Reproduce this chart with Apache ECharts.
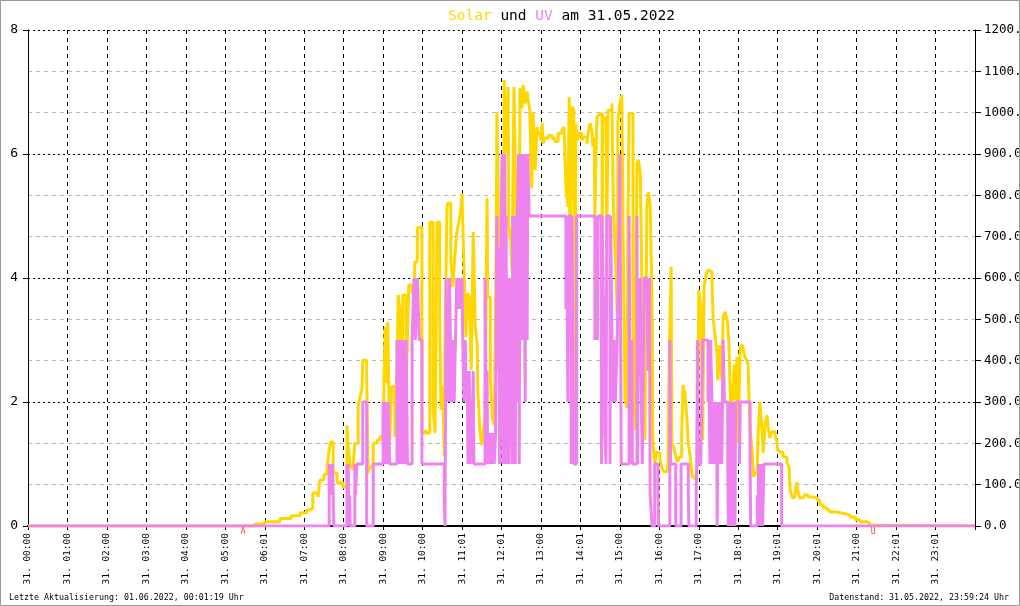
<!DOCTYPE html>
<html>
<head>
<meta charset="utf-8">
<script src="https://cdn.jsdelivr.net/npm/echarts@6/dist/echarts.min.js"></script>
<style>
html,body{margin:0;padding:0;background:#fff;}
#c{width:1020px;height:606px;}
</style>
</head>
<body>
<div id="c"></div>
<script>
// ---- data ----
const tickLabels = ['31. 00:00','31. 01:00','31. 02:00','31. 03:00','31. 04:00','31. 05:00','31. 06:01','31. 07:00',
  '31. 08:00','31. 09:00','31. 10:00','31. 11:01','31. 12:01','31. 13:00','31. 14:01','31. 15:00','31. 16:00',
  '31. 17:00','31. 18:01','31. 19:01','31. 20:01','31. 21:00','31. 22:01','31. 23:01'];

// minutes since midnight, W/m²
const solarData = [
[0,0],[338,0],[345,5],[360,10],[383,18],[400,25],[414,32],[424,39],[429,43],[433,80],[441,70],[444,111],[450,125],[455,143],[458,184],[460,203],[464,128],[470,104],[474,106],[479,94],[485,244],[487,191],[490,143],[494,135],[497,200],[502,289],[505,313],[508,333],[509,401],[515,377],[517,128],[520,143],[525,200],[531,208],[535,216],[540,244],[543,482],[546,346],[547,494],[550,208],[553,337],[558,216],[561,382],[563,559],[566,515],[569,225],[570,559],[575,208],[576,390],[579,583],[584,563],[588,639],[592,721],[595,724],[599,225],[604,232],[607,225],[611,735],[616,281],[619,225],[622,735],[626,498],[628,281],[631,337],[633,170],[634,426],[637,765],[638,781],[643,644],[646,578],[649,651],[652,711],[655,733],[658,765],[660,805],[663,619],[666,457],[668,563],[671,554],[674,377],[677,711],[680,486],[683,442],[684,329],[687,232],[690,196],[692,225],[695,264],[698,794],[699,554],[703,361],[706,261],[709,244],[712,687],[713,1002],[716,668],[718,450],[721,886],[722,298],[724,1079],[727,902],[730,1062],[731,724],[734,692],[736,619],[739,1062],[742,748],[744,745],[747,321],[748,1059],[751,1010],[753,1067],[756,1022],[759,1051],[760,1035],[763,1006],[766,817],[768,1002],[771,861],[774,965],[775,950],[779,933],[782,974],[783,925],[786,938],[791,945],[797,938],[801,930],[806,950],[812,958],[815,965],[818,820],[821,772],[823,1038],[824,462],[826,853],[827,1014],[830,1006],[832,273],[833,974],[835,933],[838,950],[842,933],[845,941],[850,925],[853,965],[855,974],[858,950],[859,917],[861,941],[862,748],[865,987],[867,994],[870,998],[873,600],[874,990],[876,977],[879,990],[880,660],[882,1006],[885,1006],[888,1022],[890,781],[893,663],[896,515],[897,982],[900,1022],[903,1043],[905,692],[908,305],[911,285],[912,684],[914,998],[917,998],[920,627],[921,337],[923,232],[926,878],[928,886],[931,857],[934,523],[935,539],[938,208],[941,772],[943,808],[946,781],[949,531],[950,216],[952,167],[953,152],[956,179],[958,177],[961,160],[964,140],[967,131],[972,128],[973,152],[975,394],[978,627],[979,200],[982,191],[985,167],[988,155],[990,167],[994,216],[996,341],[999,321],[1002,256],[1004,200],[1007,167],[1010,119],[1014,111],[1017,128],[1019,370],[1020,571],[1023,535],[1025,385],[1026,208],[1028,578],[1029,588],[1032,612],[1034,619],[1037,615],[1040,588],[1042,498],[1045,457],[1048,409],[1049,353],[1052,438],[1055,353],[1057,506],[1060,518],[1063,498],[1064,491],[1066,433],[1069,240],[1071,312],[1074,390],[1075,305],[1078,409],[1080,200],[1083,433],[1086,438],[1087,433],[1090,409],[1093,401],[1095,390],[1098,232],[1101,184],[1103,119],[1105,128],[1109,152],[1110,216],[1113,300],[1116,232],[1118,177],[1121,249],[1124,268],[1125,244],[1128,213],[1131,228],[1136,220],[1139,203],[1140,184],[1143,179],[1148,167],[1154,155],[1157,143],[1159,87],[1162,68],[1163,70],[1166,80],[1169,106],[1171,80],[1174,68],[1178,70],[1181,75],[1186,70],[1194,68],[1200,63],[1204,51],[1209,44],[1215,39],[1219,34],[1230,31],[1239,27],[1250,22],[1258,15],[1265,10],[1276,7],[1280,2],[1285,0],[1440,0]
];

// minutes since midnight, UV index
const uvData = [
[0,0],[458,1],[461,0.5],[463,1],[464,0.5],[465,0],
[485,1],[486,0],[487,1],[488,0],[489,0.5],[490,0],
[497,1],[498,0.5],[500,1],
[509,2],[515,0],[525,1],
[540,2],[542,1],[544,2],[546,1],[548,2],[550,1],
[561,3],[562,1],[564,3],[566,1],[567,3],[569,1],[571,3],[573,1],[575,3],[577,1],
[584,3],[587,4],[589,3],[592,4],[595,3],[599,1],
[633,0.5],[634,0],[636,4],[637,2],[638,3.5],[640,2],[641,4],[643,2.5],[644,2],[646,3],[648,2],[649,2.5],[652,4],[655,3.5],[656,4],[659,3.5],[660,4],[661,3],[663,2],[665,3],[666,2],[668,2.5],[669,1],[671,2.5],[672,1],[673,2],[674,1],[677,2.5],[678,1],[695,4],[696,2.5],[697,1],[698,2.5],[699,1],[701,1.5],[702,1],[704,1.5],[705,1],[707,1.5],[709,1],[711,1.5],
[713,5],[714,2.5],[715,3],[716,4.5],[717,1],[718,2.5],[719,4],[721,6],[722,1],[723,6],[724,2],[725,6],[726,1],[727,5],[728,1],[730,4],[731,1],[732,4],[733,2],[734,4],[736,1],[737,5],[738,1],[739,5],[741,1],[742,5],[743,2],[744,5],[746,6],[747,1],[748,6],[750,3],[751,6],[753,3],[754,6],[756,2],[757,6],[759,3],[760,6],[762,5],
[818,3.5],[819,5],[821,2],[822,5],[826,1],[827,5],[830,1],[834,5],
[862,3],[864,5],[866,3],[867,5],[872,1],[873,5],[876,3],[877,1.5],[879,1],[880,5],[885,1],[886,5],[888,3],[889,2],[891,3],[893,2],[896,3],[899,5],[900,6],[902,1],[914,5],[915,3],[916,1],[918,3],[919,1],[926,5],[927,1],[928,4],[930,2.5],[931,4],[932,2.5],[934,1],[937,4],[941,4],[943,2.5],[945,4],[946,0.5],[949,0],[953,1],[958,0.5],[959,0],[976,3],[977,1],[985,0],[993,1],[1004,0.5],[1005,0],
[1016,0.5],[1017,1],[1018,3],[1019,1],[1023,1],[1026,3],[1034,2],[1035,3],[1037,1],[1038,3],[1040,2],[1041,1],[1043,2],[1045,1],[1047,2],[1048,0],[1049,2],[1051,1],[1053,2],[1055,1],[1057,3],[1059,2],[1064,1],[1065,0],[1066,2],[1067,0.5],[1068,2],[1069,0],[1070,2],[1071,1],[1072,0],[1073,2],[1075,0],[1076,2],[1082,1],[1083,2],[1098,1],[1099,0],[1109,0.5],[1110,0],[1111,1],[1112,0],[1113,1],[1114,0.5],[1115,0],[1116,1],[1117,0],[1119,1],[1146,0],[1440,0]
];

// sunrise (A) / sunset (U), minutes
const sunEvents = [[327,0,'A'],[1285,0,'U']];

const titleDate = '31.05.2022';
const footerLeft = 'Letzte Aktualisierung: 01.06.2022, 00:01:19 Uhr';
const footerRight = 'Datenstand: 31.05.2022, 23:59:24 Uhr';

// ---- chart ----
const MONO = '"DejaVu Sans Mono", "Liberation Mono", monospace';
const chart = echarts.init(document.getElementById('c'), null, {renderer:'canvas'});
chart.setOption({
  animation:false,
  backgroundColor:'#fff',
  title:{
    text:'{s|Solar} und {u|UV} am ' + titleDate,
    left:443, top:4,
    textStyle:{fontFamily:MONO, fontSize:14.5, fontWeight:'normal', color:'#000',
      rich:{s:{color:'#FFD700', fontFamily:MONO, fontSize:14.5}, u:{color:'#EE82EE', fontFamily:MONO, fontSize:14.5}}}
  },
  grid:{left:28, right:45, top:30, bottom:80, containLabel:false, outerBoundsMode:'none'},
  xAxis:{
    type:'value', min:0, max:1440, interval:60,
    axisLine:{show:true, lineStyle:{color:'#000', width:2}},
    axisTick:{show:true, length:4, lineStyle:{color:'#000'}},
    axisLabel:{rotate:90, margin:7, fontFamily:MONO, fontSize:9.5, color:'#000',
      formatter:(v)=> tickLabels[Math.round(v/60)] || ''},
    splitLine:{show:true, lineStyle:{color:'#000', type:[4,4], width:1}}
  },
  yAxis:[
    {type:'value', min:0, max:8, interval:2, position:'left',
     axisLine:{show:true, lineStyle:{color:'#000', width:1}},
     axisTick:{show:true, length:5, lineStyle:{color:'#000'}},
     axisLabel:{margin:10, fontFamily:MONO, fontSize:13, color:'#000'},
     splitLine:{show:true, lineStyle:{color:'#000', type:[2,3], width:1}}, z:3},
    {type:'value', min:0, max:1200, interval:100, position:'right',
     axisLine:{show:true, lineStyle:{color:'#000', width:1}},
     axisTick:{show:true, length:6, lineStyle:{color:'#000'}},
     axisLabel:{margin:9, fontFamily:MONO, fontSize:12.5, color:'#000', formatter:(v)=>v.toFixed(1)},
     splitLine:{show:true, lineStyle:{color:['rgba(0,0,0,0)','#bbb','#bbb'], type:[4,4], width:1}}}
  ],
  series:[
    {name:'Solar', type:'line', yAxisIndex:1, step:'end', data:solarData, showSymbol:false,
     lineStyle:{color:'#FFD700', width:3}, itemStyle:{color:'#FFD700'}, z:4},
    {name:'UV', type:'line', yAxisIndex:0, step:'end', data:uvData, showSymbol:false,
     lineStyle:{color:'#EE82EE', width:3}, itemStyle:{color:'#EE82EE'}, z:5},
    {name:'events', type:'scatter', yAxisIndex:0, data:sunEvents, symbolSize:0.1, z:6,
     label:{show:true, position:'bottom', distance:2, formatter:(p)=>p.data[2],
       color:'#f00', fontFamily:MONO, fontSize:8}}
  ],
  graphic:[
    {type:'rect', shape:{x:0.5,y:0.5,width:1019,height:605}, style:{fill:'none', stroke:'#999', lineWidth:1}, z:100},
    {type:'text', left:9, top:594, style:{text:footerLeft, font:'8.3px ' + MONO, fill:'#000'}},
    {type:'text', right:11, top:594, style:{text:footerRight, font:'8.3px ' + MONO, fill:'#000'}}
  ]
});
</script>
</body>
</html>
